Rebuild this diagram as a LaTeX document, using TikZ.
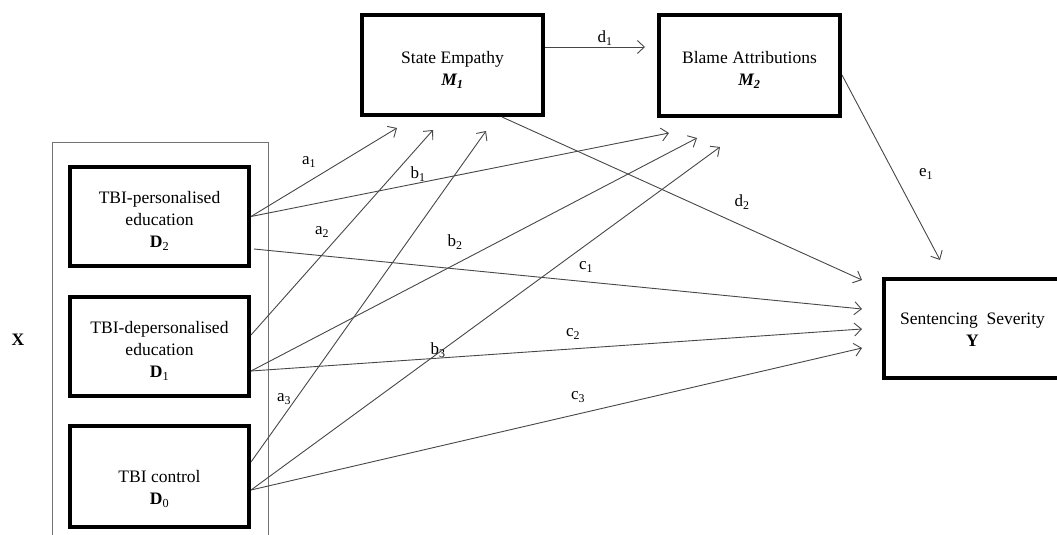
\documentclass[tikz,border=0pt]{standalone}
\usepackage{fontspec}
\setmainfont{Liberation Serif}
\usetikzlibrary{arrows.meta,calc}
\begin{document}
\begin{tikzpicture}[x=1pt,y=-1pt,
  box/.style={draw=black,line width=4pt,inner sep=0pt,fill=white},
  txt/.style={font=\fontsize{17.5}{22}\selectfont,align=center,inner sep=0pt},
  lbl/.style={font=\fontsize{17}{20}\selectfont,inner sep=0pt},
  conn/.style={draw=black!72,line width=0.9pt,-{Straight Barb[length=7pt,width=13pt,line width=0.9pt]}},
  frameline/.style={draw=black!55,line width=0.9pt}]
\useasboundingbox (0,0) rectangle (1057,535);

% grouping frame for the dummy-coded predictor X
\draw[frameline] (52,540) -- (52,142) -- (268,142) -- (268,540);
\node[font=\bfseries\fontsize{17.5}{20}\selectfont,inner sep=0pt] (X) at (18,340) {X};

% predictor boxes
\node[box,minimum width=179pt,minimum height=99pt] (D2) at (159.5,216.5) {};
\node[box,minimum width=179pt,minimum height=99pt] (D1) at (159.5,346.5) {};
\node[box,minimum width=179pt,minimum height=101pt] (D0) at (159.5,476.5) {};
\node[txt] (tD2) at (159.5,221) {TBI-personalised\\education\\\textbf{D}\textsubscript{2}};
\node[txt] (tD1) at (159.5,351) {TBI-depersonalised\\education\\\textbf{D}\textsubscript{1}};
\node[txt] (tD0) at (159.5,489) {TBI control\\\textbf{D}\textsubscript{0}};

% mediators and outcome
\node[box,minimum width=181pt,minimum height=100pt] (M1) at (452.5,65) {};
\node[box,minimum width=181pt,minimum height=101pt] (M2) at (749.5,65.5) {};
\node[box,minimum width=177pt,minimum height=99pt] (Y) at (972.5,328.5) {};
\node[txt] (tM1) at (452.5,70) {State Empathy\\\textbf{\textit{M\textsubscript{1}}}};
\node[txt] (tM2) at (749.5,70) {Blame Attributions\\\textbf{\textit{M\textsubscript{2}}}};
\node[txt] (tY) at (972.5,330) {Sentencing\ \ Severity\\\textbf{Y}};

% free arrow ends
\coordinate (hA1) at (397,128);
\coordinate (hA2) at (433,130);
\coordinate (hA3) at (486,131);
\coordinate (hB1) at (669,133);
\coordinate (hB2) at (697,138);
\coordinate (hB3) at (720,147);
\coordinate (hD1) at (645,47);
\coordinate (hD2) at (862,280);
\coordinate (hC1) at (862,309);
\coordinate (hC2) at (862,329);
\coordinate (hC3) at (862,348);
\coordinate (hE1) at (940,260);

% paths to State Empathy
\draw[conn] (D2.east) -- (hA1);
\draw[conn] ([yshift=11.5pt]D1.east) -- (hA2);
\draw[conn] ([yshift=14.5pt]D0.east) -- (hA3);
% paths to Blame Attributions
\draw[conn] (D2.east) -- (hB1);
\draw[conn] ([yshift=-24.5pt]D1.east) -- (hB2);
\draw[conn] ([yshift=-13.5pt]D0.east) -- (hB3);
% direct paths to Sentencing Severity
\draw[conn] ([yshift=-32.5pt,xshift=3pt]D2.east) -- (hC1);
\draw[conn] ([yshift=-24.5pt]D1.east) -- (hC2);
\draw[conn] ([yshift=-13.5pt]D0.east) -- (hC3);
% mediator paths
\draw[conn] ([yshift=18pt]M1.east) -- (hD1);
\draw[conn] ([xshift=49.5pt]M1.south) -- (hD2);
\draw[conn] ([yshift=-9.5pt]M2.east) -- (hE1);

% path labels
\node[lbl] (la1) at (309,162) {a\textsubscript{1}};
\node[lbl] (lb1) at (418,174) {b\textsubscript{1}};
\node[lbl] (la2) at (322,232) {a\textsubscript{2}};
\node[lbl] (lb2) at (455,242) {b\textsubscript{2}};
\node[lbl] (la3) at (284,399) {a\textsubscript{3}};
\node[lbl] (lb3) at (438,350) {b\textsubscript{3}};
\node[lbl] (lc1) at (586,267) {c\textsubscript{1}};
\node[lbl] (lc2) at (573,334) {c\textsubscript{2}};
\node[lbl] (lc3) at (578,397) {c\textsubscript{3}};
\node[lbl] (ld1) at (605,38) {d\textsubscript{1}};
\node[lbl] (ld2) at (742,202) {d\textsubscript{2}};
\node[lbl] (le1) at (926,174) {e\textsubscript{1}};
\end{tikzpicture}
\end{document}
